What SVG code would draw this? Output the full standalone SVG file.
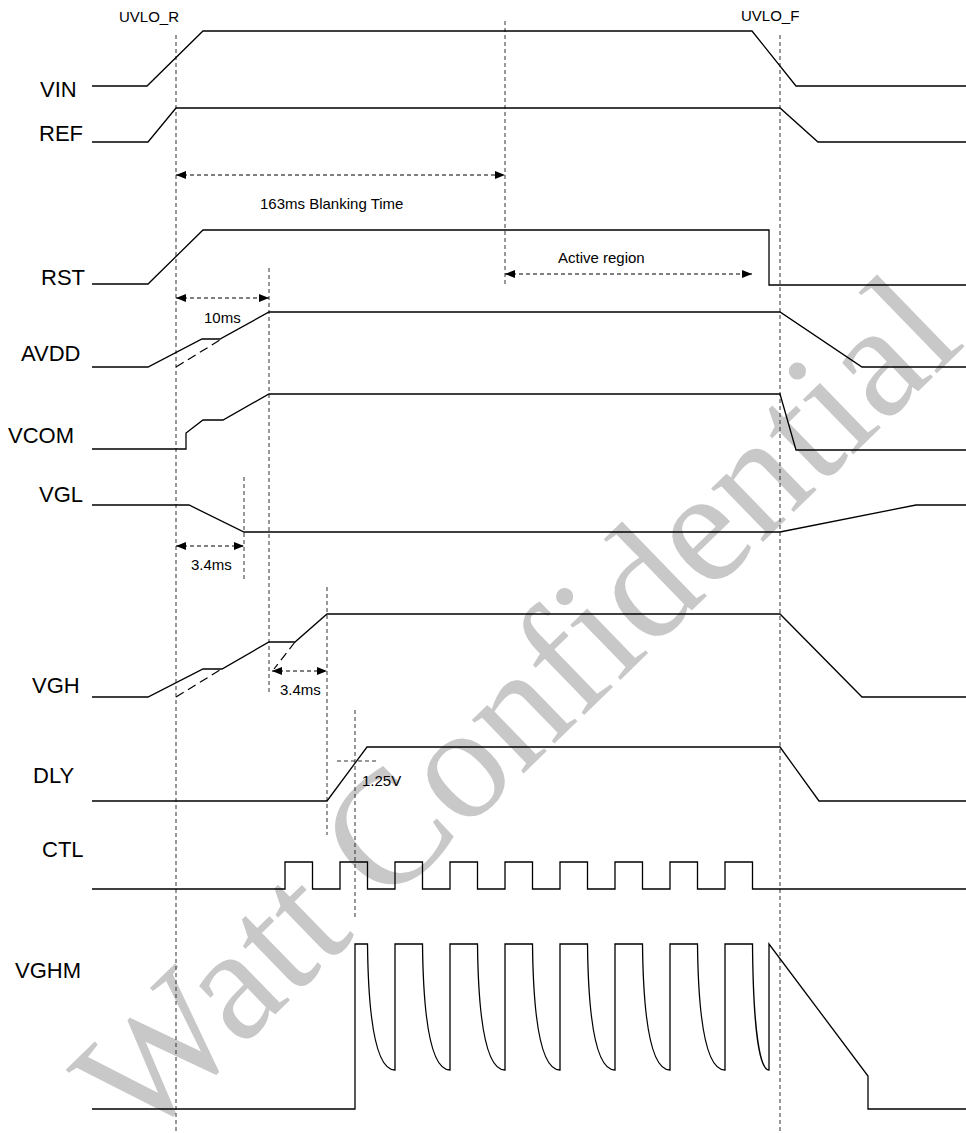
<svg xmlns="http://www.w3.org/2000/svg" width="966" height="1133" viewBox="0 0 966 1133">
<style>
.sig{fill:none;stroke:#000;stroke-width:1.3;stroke-linejoin:miter}
.guide{fill:none;stroke:#333;stroke-width:1;stroke-dasharray:4 3}
.dim{fill:none;stroke:#000;stroke-width:1;stroke-dasharray:4 3}
.ghost{fill:none;stroke:#000;stroke-width:1.2;stroke-dasharray:9 5}
.lbl{font-family:"Liberation Sans",Arial,sans-serif;font-size:22px;fill:#000}
.note{font-family:"Liberation Sans",Arial,sans-serif;font-size:15px;fill:#000}
.wm{font-family:"Liberation Serif","Times New Roman",serif;font-size:162px;fill:#c8c8c8}
</style>
<defs>
<marker id="ah" viewBox="0 0 10 8" refX="10" refY="4" markerWidth="10" markerHeight="8" markerUnits="userSpaceOnUse" orient="auto-start-reverse">
<path d="M0,0 L10,4 L0,8 z" fill="#000"/>
</marker>
</defs>
<rect width="966" height="1133" fill="#fff"/>
<g id="watermark">
<text class="wm" transform="translate(139.5,1145.9) rotate(-44.1)" x="0" y="0">Watt Confidential</text>
</g>
<g id="guides">
<line class="guide" x1="176" y1="35" x2="176" y2="1133"/>
<line class="guide" x1="780" y1="35" x2="780" y2="1133"/>
<line class="guide" x1="505" y1="21" x2="505" y2="284"/>
<line class="guide" x1="269" y1="268" x2="269" y2="692"/>
<line class="guide" x1="244" y1="477" x2="244" y2="579"/>
<line class="guide" x1="327" y1="587" x2="327" y2="835"/>
<line class="guide" x1="355" y1="710" x2="355" y2="918"/>
<line class="guide" x1="337" y1="761" x2="377" y2="761"/>
</g>
<g id="connectors">
<line class="dim" x1="176" y1="175" x2="505" y2="175" marker-start="url(#ah)" marker-end="url(#ah)"/>
<line class="dim" x1="505" y1="274" x2="752" y2="274" marker-start="url(#ah)" marker-end="url(#ah)"/>
<line class="dim" x1="176" y1="298" x2="269" y2="298" marker-start="url(#ah)" marker-end="url(#ah)"/>
<line class="dim" x1="176" y1="546" x2="244" y2="546" marker-start="url(#ah)" marker-end="url(#ah)"/>
<line class="dim" x1="272" y1="671" x2="327" y2="671" marker-start="url(#ah)" marker-end="url(#ah)"/>
</g>
<g id="VIN"><text class="lbl" x="40" y="97">VIN</text><path class="sig" d="M92,86 H147 L203,31 H752 L796,86 H966"/></g>
<g id="REF"><text class="lbl" x="39" y="141">REF</text><path class="sig" d="M92,142 H148 L176,108 H780 L818,142 H966"/></g>
<g id="RST"><text class="lbl" x="41" y="285">RST</text><path class="sig" d="M92,284 H148 L203,230 H769 V285 H966"/></g>
<g id="AVDD"><text class="lbl" x="21" y="361">AVDD</text><path class="sig" d="M92,367 H148 L202,339 H220 L269,312 H780 L862,367 H966"/><line class="ghost" x1="176" y1="367" x2="220" y2="340"/></g>
<g id="VCOM"><text class="lbl" x="8" y="443">VCOM</text><path class="sig" d="M92,449 H186 V433 L203,420 H223 L269,394 H780 L796,450 H966"/></g>
<g id="VGL"><text class="lbl" x="39" y="502">VGL</text><path class="sig" d="M92,505 H189 L244,532 H780 L916,505 H966"/></g>
<g id="VGH"><text class="lbl" x="32" y="693">VGH</text><path class="sig" d="M92,697 H148 L203,669 H222 L269,642 H295 L327,614 H780 L862,697 H966"/><line class="ghost" x1="176" y1="697" x2="220" y2="670"/><line class="ghost" x1="295" y1="642" x2="274" y2="669"/></g>
<g id="DLY"><text class="lbl" x="33" y="783">DLY</text><path class="sig" d="M92,801 H327 L367,747 H780 L819,801 H966"/></g>
<g id="CTL"><text class="lbl" x="42" y="857">CTL</text><path class="sig" d="M92,889 H285 V862 H312.5 V889 H340 V862 H367.5 V889 H395 V862 H422.5 V889 H450 V862 H477.5 V889 H505 V862 H532.5 V889 H560 V862 H587.5 V889 H615 V862 H642.5 V889 H670 V862 H697.5 V889 H725 V862 H752.5 V889 H966"/></g>
<g id="VGHM"><text class="lbl" x="15" y="978">VGHM</text><path class="sig" d="M92,1109 H355 V944 H367.5 C368.5,1035 379.5,1070 395,1070 V944 H422.5 C423.5,1035 434.5,1070 450,1070 V944 H477.5 C478.5,1035 489.5,1070 505,1070 V944 H532.5 C533.5,1035 544.5,1070 560,1070 V944 H587.5 C588.5,1035 599.5,1070 615,1070 V944 H642.5 C643.5,1035 654.5,1070 670,1070 V944 H697.5 C698.5,1035 709.5,1070 725,1070 V944 H752.5 C753.3,1035 760.5,1070 769,1070 V944 L868,1076 V1109 H966"/></g>
<g id="notes">
<text class="note" x="119" y="22">UVLO_R</text>
<text class="note" x="741" y="21">UVLO_F</text>
<text class="note" x="260" y="209">163ms Blanking Time</text>
<text class="note" x="558" y="263">Active region</text>
<text class="note" x="204" y="323">10ms</text>
<text class="note" x="191" y="570">3.4ms</text>
<text class="note" x="280" y="695">3.4ms</text>
<text class="note" x="362" y="786">1.25V</text>
</g>
</svg>
